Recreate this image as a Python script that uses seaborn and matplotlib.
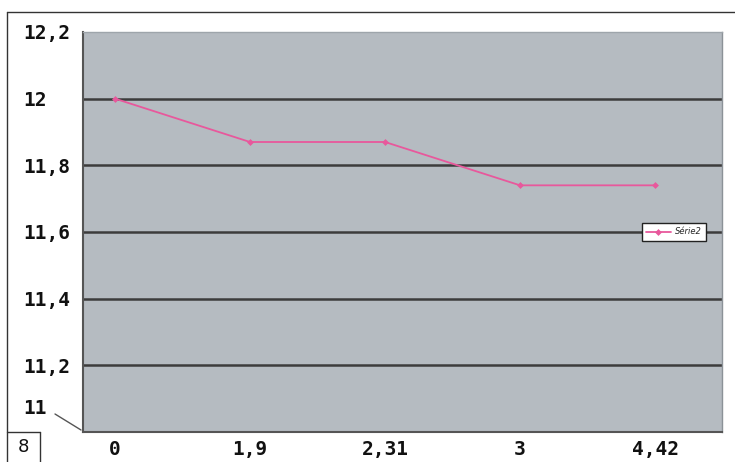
import matplotlib
matplotlib.use("Agg")
import matplotlib.pyplot as plt
from matplotlib.lines import Line2D
import seaborn as sns
import pandas as pd
import numpy as np

categories = ["0", "1,9", "2,31", "3", "4,42"]
values = [12.0, 11.87, 11.87, 11.74, 11.74]
series_name = "Série2"
y_ticks = [11.2, 11.4, 11.6, 11.8, 12.0, 12.2]
y_tick_labels = ["11,2", "11,4", "11,6", "11,8", "12", "12,2"]
page_number = "8"

sns.set_theme(style="white")
plt.rcParams['font.family'] = ['DejaVu Sans Mono', 'DejaVu Sans']

W, H = 735, 462
fig = plt.figure(figsize=(W / 100, H / 100), dpi=100)
ax = fig.add_axes([83 / W, 1 - 432 / H, (722 - 83) / W, (432 - 32) / H])

df = pd.DataFrame({"pos": np.arange(len(categories)), "val": values})
ax.set_facecolor("#b5bbc1")

for yt in y_ticks[:-1]:
    ax.axhline(yt, color="#3c3c3c", lw=1.8, zorder=1)

sns.lineplot(data=df, x="pos", y="val", ax=ax, color="#e8589c", lw=1.3,
             marker="D", markersize=3.5, markeredgewidth=0, label=series_name, zorder=3)

ax.set_xlim(-0.237, 4.496)
ax.set_ylim(11.0, 12.2)
ax.set_xlabel("")
ax.set_ylabel("")
ax.set_xticks(df["pos"])
ax.set_xticklabels(categories, fontsize=14, fontweight="bold", color="#111111")
ax.set_xticks([0.5, 1.5, 2.5, 3.5], minor=True)
ax.tick_params(axis="x", which="major", length=0, pad=6)
ax.tick_params(axis="x", which="minor", length=3, color="#555555", direction="in", width=1)
ax.set_yticks(y_ticks)
ax.set_yticklabels(y_tick_labels, fontsize=14, fontweight="bold", color="#111111", ha="left")
ax.tick_params(axis="y", length=0, pad=43)

for side in ["left", "bottom"]:
    ax.spines[side].set_color("#555555")
    ax.spines[side].set_linewidth(1.5)
ax.spines["top"].set_color("#9ea5ab")
ax.spines["top"].set_linewidth(1.0)
ax.spines["right"].set_color("#8c9298")
ax.spines["right"].set_linewidth(1.0)

ax.annotate("11", xy=(0, 11.0), xycoords=("axes fraction", "data"),
            xytext=(23, H - 409), textcoords="figure pixels",
            fontsize=14, fontweight="bold", color="#111111", ha="left", va="center",
            annotation_clip=False)
fig.add_artist(Line2D([55 / W, 81 / W], [1 - 414 / H, 1 - 430 / H],
                      transform=fig.transFigure, color="#555555", lw=1))

leg = ax.legend(loc="center", bbox_to_anchor=((674 - 83) / (722 - 83), (432 - 232) / 400),
                frameon=True, handlelength=3.0, borderpad=0.5, handletextpad=0.5,
                prop={"family": "DejaVu Sans", "style": "italic", "size": 6})
leg.get_frame().set_edgecolor("#222222")
leg.get_frame().set_linewidth(1.0)
leg.get_frame().set_facecolor("white")
leg.get_frame().set_alpha(1)
leg.get_frame().set_boxstyle("square", pad=0)

# outer frame and page-number box
fig.add_artist(Line2D([7 / W, 1], [1 - 12 / H, 1 - 12 / H], transform=fig.transFigure,
                      color="#333333", lw=1))
fig.add_artist(Line2D([7 / W, 7 / W], [1 - 12 / H, 0], transform=fig.transFigure,
                      color="#333333", lw=1))
fig.add_artist(Line2D([7 / W, 40 / W], [1 - 432 / H, 1 - 432 / H], transform=fig.transFigure,
                      color="#333333", lw=1))
fig.add_artist(Line2D([40 / W, 40 / W], [1 - 432 / H, 0], transform=fig.transFigure,
                      color="#333333", lw=1))
fig.text(23.5 / W, 1 - 447 / H, page_number, fontsize=13, family="DejaVu Sans",
         ha="center", va="center", color="#111111")

fig.savefig("out.png", dpi=100)
